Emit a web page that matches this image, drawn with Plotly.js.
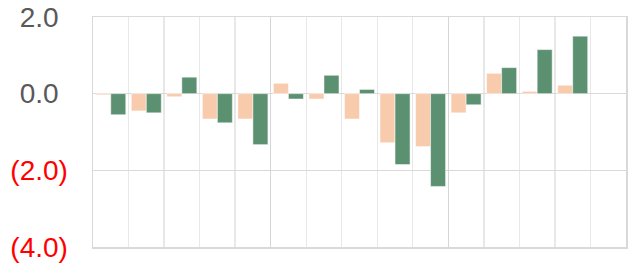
<!DOCTYPE html>
<html>
<head>
<meta charset="utf-8">
<script src="https://cdn.plot.ly/plotly-3.0.1.min.js"></script>
<style>html,body{margin:0;padding:0;background:#fff;}#chart{width:635px;height:269px;}</style>
</head>
<body>
<div id="chart"></div>
<script>
// Categories (no visible labels in the reference)
var categories = ["P1","P2","P3","P4","P5","P6","P7","P8","P9","P10","P11","P12","P13","P14","P15"];
// Series values
var seriesA = [-0.03, -0.45, -0.08, -0.66, -0.66, 0.27, -0.14, -0.66, -1.28, -1.38, -0.50, 0.53, 0.06, 0.22, null];
var seriesB = [-0.55, -0.50, 0.43, -0.76, -1.33, -0.14, 0.48, 0.11, -1.85, -2.42, -0.29, 0.68, 1.15, 1.50, null];
// Y tick values and labels
var yTickVals = [2, 0, -2, -4];
var yTickText = ["2.0", "0.0", "(2.0)", "(4.0)"];

var pad = "<span style='color:rgba(0,0,0,0)'>)</span>";
var tickText = yTickText.map(function (t, i) {
  return yTickVals[i] < 0 ? "<span style='color:#ff0000'>" + t + "</span>" : t + pad;
});

var traces = [
  {type: "bar", x: categories, y: seriesA, name: "A",
   marker: {color: "#f8cbad", line: {color: "rgba(255,255,255,0.5)", width: 1}}},
  {type: "bar", x: categories, y: seriesB, name: "B",
   marker: {color: "#5b9170", line: {color: "rgba(255,255,255,0.5)", width: 1}}},
  {type: "scatter", x: [0], y: [null], xaxis: "x2", yaxis: "y", showlegend: false, hoverinfo: "skip"}
];

var layout = {
  width: 635, height: 269,
  margin: {l: 93, r: 9, t: 17, b: 22, pad: 0},
  paper_bgcolor: "#ffffff", plot_bgcolor: "#ffffff",
  showlegend: false,
  barmode: "group", bargap: 0.155, bargroupgap: 0,
  font: {family: "Liberation Sans, Arial, sans-serif", size: 28, color: "#595959"},
  xaxis: {
    type: "category", categoryorder: "array", categoryarray: categories,
    range: [-0.5, categories.length - 0.5],
    tickson: "boundaries", ticks: "", showticklabels: false,
    showgrid: true, gridcolor: "#e8e8e8", gridwidth: 1.3,
    showline: true, mirror: true, linecolor: "#d9d9d9", linewidth: 1.5,
    zeroline: false, fixedrange: true
  },
  xaxis2: {
    overlaying: "x", type: "linear", range: [-0.5, categories.length - 0.5],
    tick0: -0.5, dtick: 5, showticklabels: false, ticks: "",
    showgrid: true, gridcolor: "#d6d6d6", gridwidth: 1.5,
    zeroline: false, showline: false, fixedrange: true
  },
  yaxis: {
    range: [-4, 2], tickmode: "array", tickvals: yTickVals, ticktext: tickText,
    ticks: "", ticklabelstandoff: 18,
    showgrid: true, gridcolor: "#d9d9d9", gridwidth: 1.5,
    zeroline: true, zerolinecolor: "#d9d9d9", zerolinewidth: 1.5,
    showline: true, mirror: true, linecolor: "#d9d9d9", linewidth: 1.5,
    tickfont: {size: 28, color: "#595959"}, fixedrange: true
  }
};

Plotly.newPlot("chart", traces, layout, {staticPlot: true, displayModeBar: false});
</script>
</body>
</html>
